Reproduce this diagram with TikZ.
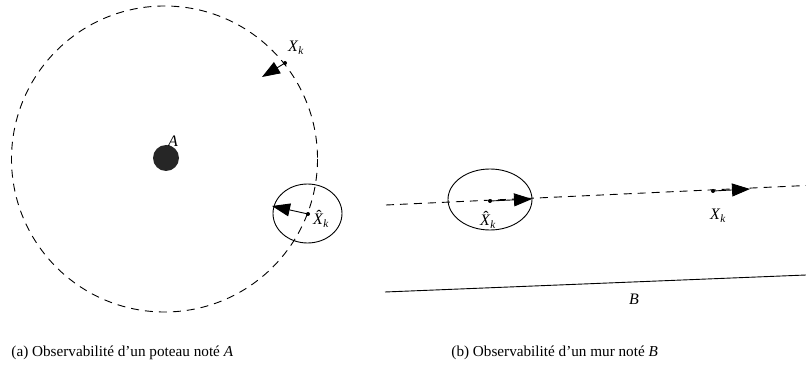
\documentclass[tikz,border=0pt]{standalone}
\usepackage{fontspec}
\setmainfont{Liberation Serif}
\usetikzlibrary{arrows.meta}
\tikzset{
  every picture/.style={line width=0.9pt},
  dashcurve/.style={dash pattern=on 8pt off 6pt},
  bigarrow/.style={-{Triangle[length=18pt,width=13pt]}},
  dotpt/.style={circle, fill=black, inner sep=0pt, minimum size=4pt},
  lbl/.style={inner sep=0pt, font=\fontsize{16}{19}\selectfont},
  captext/.style={inner sep=0pt, anchor=base west, font=\fontsize{15.2}{18}\selectfont}
}
\newcommand{\Xk}{\textit{X}\textsubscript{\textit{k}}}
\newcommand{\Xhk}{{\ooalign{\textit{X}\cr\hidewidth\kern0.12em\raisebox{0.24em}{ˆ}\hidewidth\cr}}\textsubscript{\textit{k}}}
\begin{document}
\begin{tikzpicture}[x=1pt,y=-1pt]
\useasboundingbox (0,0) rectangle (806,390);
% (a)
\node[circle, fill=black!85, minimum size=26pt, inner sep=0pt] (A) at (166,158) {};
\node[lbl] (Alab) at (173,141) {\textit{A}};
\draw[dashcurve] (164.5,159) circle[radius=153];
\node[dotpt] (X1) at (285,63) {};
\coordinate (T1) at (262,77);
\draw[bigarrow] (X1.center) -- (T1);
\node[lbl] (X1lab) at (296,48) {\Xk};
\draw (307.5,213.5) ellipse[x radius=34.5, y radius=29.5];
\node[dotpt] (X2) at (308,214) {};
\coordinate (T2) at (272,206);
\draw[bigarrow] (X2.center) -- (T2);
\node[lbl] (X2lab) at (321,221) {\Xhk};
% (b)
\coordinate (L1) at (386,205);
\coordinate (L2) at (806,185.5);
\draw[dashcurve] (L1) -- (L2);
\draw (490,199.5) ellipse[x radius=42, y radius=30.5];
\node[dotpt] (P1) at (490,201) {};
\coordinate (T3) at (532,199);
\draw[bigarrow] (P1.center) -- (T3);
\node[lbl] (P1lab) at (488,222) {\Xhk};
\node[dotpt] (P2) at (713,191) {};
\coordinate (T4) at (750,189);
\draw[bigarrow] (P2.center) -- (T4);
\node[lbl] (P2lab) at (718,216) {\Xk};
\coordinate (W1) at (385,292);
\coordinate (W2) at (806,275);
\draw (W1) -- (W2);
\node[lbl] (Blab) at (634,299) {\textit{B}};
% captions
\node[captext] (capa) at (11,356) {(a) Observabilité d’un poteau noté \textit{A}};
\node[captext] (capb) at (451,356) {(b) Observabilité d’un mur noté \textit{B}};
\end{tikzpicture}
\end{document}
